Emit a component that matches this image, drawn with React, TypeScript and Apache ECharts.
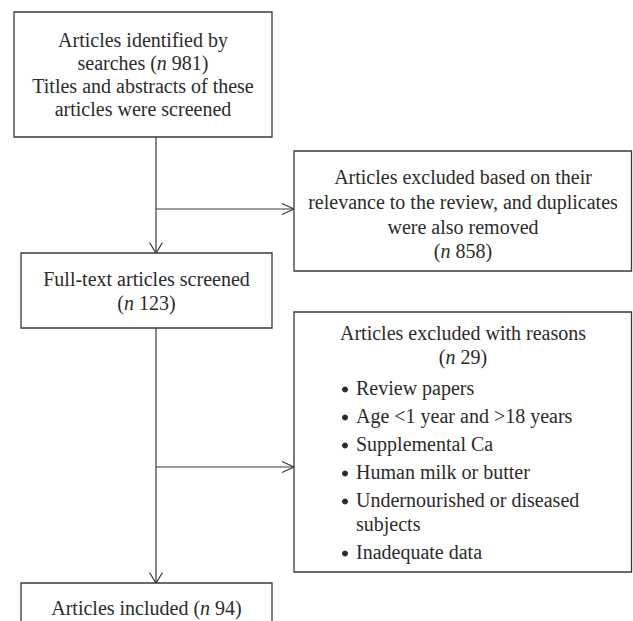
import React, { useEffect, useRef } from "react";
import * as echarts from "echarts";

// Flow stages and counts
const stageLabels = [
  "Articles identified by searches",
  "Articles excluded (relevance/duplicates)",
  "Full-text articles screened",
  "Articles excluded with reasons",
  "Articles included",
];
const stageCounts = [981, 858, 123, 29, 94];
const exclusionReasons = [
  ["Review papers"],
  ["Age <1 year and >18 years"],
  ["Supplemental Ca"],
  ["Human milk or butter"],
  ["Undernourished or diseased", "subjects"],
  ["Inadequate data"],
];

const FONT = "'Liberation Serif', 'Times New Roman', serif";
const INK = "#2b2b2b";
const LINE = "#3a3a3a";

function txt(x: number, y: number, text: string, align = "center", size = 20) {
  return {
    type: "text",
    x,
    y,
    style: {
      text,
      fontSize: size,
      fontFamily: FONT,
      fill: INK,
      align,
      verticalAlign: "middle",
      rich: {
        i: { fontStyle: "italic", fontSize: size, fontFamily: FONT, fill: INK },
      },
    },
  };
}

function box(x: number, y: number, w: number, h: number) {
  return {
    type: "rect",
    shape: { x, y, width: w, height: h },
    style: { fill: "#fff", stroke: LINE, lineWidth: 1.3 },
  };
}

function seg(x1: number, y1: number, x2: number, y2: number) {
  return {
    type: "line",
    shape: { x1, y1, x2, y2 },
    style: { stroke: LINE, lineWidth: 1.2 },
  };
}

function arrowDown(x: number, y: number) {
  return {
    type: "polyline",
    shape: { points: [[x - 6.5, y - 10.5], [x, y], [x + 6.5, y - 10.5]] },
    style: { stroke: LINE, lineWidth: 1.2, fill: "none" },
  };
}

function arrowRight(x: number, y: number) {
  return {
    type: "polyline",
    shape: { points: [[x - 12, y - 5.5], [x, y], [x - 12, y + 5.5]] },
    style: { stroke: LINE, lineWidth: 1.2, fill: "none" },
  };
}

export default function App() {
  const ref = useRef<HTMLDivElement>(null);
  useEffect(() => {
    document.body.style.margin = "0";
    const chart = echarts.init(ref.current!, undefined, { renderer: "svg" });
    const n = (v: number) => `({i|n} ${v})`;
    const g: any[] = [];
    const mainX = 156;

    // connectors
    g.push(seg(mainX, 137, mainX, 253));
    g.push(arrowDown(mainX, 253));
    g.push(seg(mainX, 209, 294, 209));
    g.push(arrowRight(294, 209));
    g.push(seg(mainX, 328, mainX, 583));
    g.push(arrowDown(mainX, 583));
    g.push(seg(mainX, 467, 294, 467));
    g.push(arrowRight(294, 467));

    // Box 1
    g.push(box(14, 12, 258, 125));
    g.push(txt(143, 40, "Articles identified by"));
    g.push(txt(143, 63, `searches ${n(stageCounts[0])}`));
    g.push(txt(143, 86, "Titles and abstracts of these"));
    g.push(txt(143, 109, "articles were screened"));

    // Right box 1
    g.push(box(294, 151, 337.5, 120));
    g.push(txt(463, 177, "Articles excluded based on their"));
    g.push(txt(463, 202, "relevance to the review, and duplicates"));
    g.push(txt(463, 227, "were also removed"));
    g.push(txt(463, 251, n(stageCounts[1])));

    // Box 2
    g.push(box(21, 253, 251, 75));
    g.push(txt(146.5, 279, stageLabels[2]));
    g.push(txt(146.5, 303, n(stageCounts[2])));

    // Right box 2
    g.push(box(294, 312, 337.5, 260));
    g.push(txt(463, 333, stageLabels[3]));
    g.push(txt(463, 357, n(stageCounts[3])));
    let y = 388;
    exclusionReasons.forEach((lines) => {
      g.push({
        type: "circle",
        shape: { cx: 345, cy: y + 1.5, r: 3 },
        style: { fill: INK },
      });
      lines.forEach((l, k) => {
        g.push(txt(356, y + k * 24, l, "left"));
      });
      y += 28 + (lines.length - 1) * 24;
    });

    // Box 3
    g.push(box(21, 583, 251, 60));
    g.push(txt(146.5, 608, `${stageLabels[4]} ${n(stageCounts[4])}`));

    chart.setOption({ animation: false, graphic: g });
    return () => chart.dispose();
  }, []);
  return <div ref={ref} style={{ width: 633, height: 621, background: "#fff" }} />;
}
